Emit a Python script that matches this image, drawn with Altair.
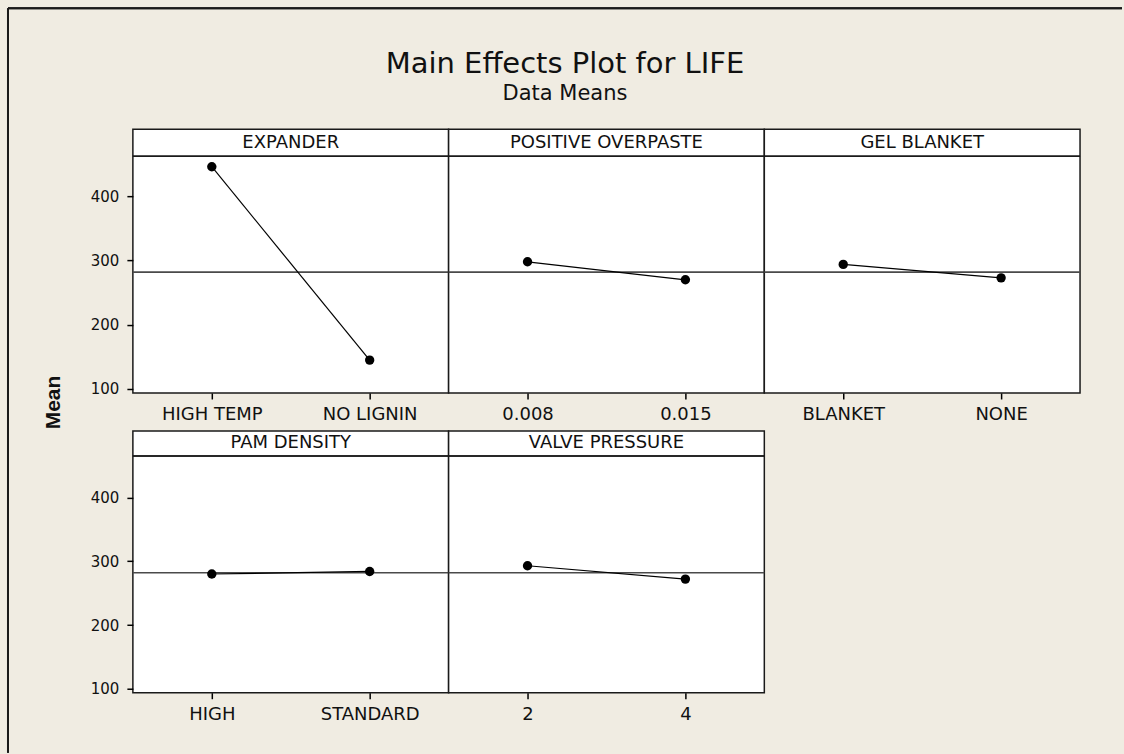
import altair as alt
import pandas as pd

# Main effects of each factor on LIFE (data means)
factors = ["EXPANDER", "POSITIVE OVERPASTE", "GEL BLANKET", "PAM DENSITY", "VALVE PRESSURE"]
levels = [
    ["HIGH TEMP", "NO LIGNIN"],
    ["0.008", "0.015"],
    ["BLANKET", "NONE"],
    ["HIGH", "STANDARD"],
    ["2", "4"],
]
means = [
    [446, 145],
    [298, 270],
    [294, 273],
    [280, 284],
    [293, 272],
]
grand_mean = 282
y_ticks = [100, 200, 300, 400]

# Layout / style constants
Y_DOMAIN = [93.8, 504.4]   # top part of each panel holds the factor header
PANEL_W = 316
FONT = "DejaVu Sans"
BG = "#F0ECE2"


def make_panel(i, height, header_h, left, top_left=False):
    df = pd.DataFrame({"level": levels[i], "mean": means[i]})
    yscale = alt.Scale(domain=Y_DOMAIN, nice=False, zero=False)

    x = alt.X(
        "level:N",
        scale=alt.Scale(type="point", domain=levels[i], padding=0.5),
        axis=alt.Axis(
            title=None, domain=False, grid=False, labelAngle=0,
            tickSize=6, tickColor="black", tickWidth=1.5,
            labelFont=FONT, labelFontSize=18, labelColor="#111111",
            labelPadding=7,
        ),
    )

    if left:
        axis_kw = dict(
            values=y_ticks, domain=False, grid=False,
            tickSize=6, tickColor="black", tickWidth=1.5,
            labelFont=FONT, labelFontSize=15, labelColor="#111111",
            labelPadding=8,
        )
        if top_left:
            axis_kw.update(
                title="Mean", titleX=-69, titleY=273, titleAngle=270,
                titleAlign="center", titleBaseline="bottom",
                titleFont="Liberation Sans", titleFontSize=21,
                titleFontWeight="bold", titleColor="#111111",
            )
        else:
            axis_kw.update(title="")
        yaxis = alt.Axis(**axis_kw)
    else:
        yaxis = None

    y = alt.Y("mean:Q", scale=yscale, axis=yaxis)

    ref = alt.Chart(pd.DataFrame({"grand": [grand_mean]})).mark_rule(
        color="#4a4a4a", strokeWidth=1.6
    ).encode(y=alt.Y("grand:Q", scale=yscale, axis=yaxis))

    base = alt.Chart(df)
    line = base.mark_line(color="black", strokeWidth=1.2).encode(x=x, y=y)
    pts = base.mark_circle(size=88, color="black", opacity=1).encode(x=x, y=y)

    header_line = alt.Chart(df).mark_rule(color="#1a1a1a", strokeWidth=1.5).encode(
        x=alt.value(0), x2=alt.value(PANEL_W), y=alt.value(header_h)
    )
    header_text = alt.Chart(pd.DataFrame({"factor": [factors[i]]})).mark_text(
        font=FONT, fontSize=18, color="#111111", align="center", baseline="middle"
    ).encode(
        text="factor:N", x=alt.value(PANEL_W / 2), y=alt.value(header_h / 2)
    )

    layers = [ref, line, pts, header_line, header_text]

    if top_left:
        # window frame along the top and left edges
        frame_v = alt.Chart(df).mark_rule(color="#1a1a1a", strokeWidth=2).encode(
            x=alt.value(-125), y=alt.value(-121), y2=alt.value(624)
        )
        frame_h = alt.Chart(df).mark_rule(color="#1a1a1a", strokeWidth=2).encode(
            x=alt.value(-125), x2=alt.value(990), y=alt.value(-121)
        )
        layers += [frame_v, frame_h]

    return alt.layer(*layers).properties(width=PANEL_W, height=height)


panels = [
    make_panel(0, 264, 27, left=True, top_left=True),
    make_panel(1, 264, 27, left=False),
    make_panel(2, 264, 27, left=False),
    make_panel(3, 262, 25, left=True),
    make_panel(4, 262, 25, left=False),
]

chart = alt.concat(
    *panels,
    columns=3,
    spacing=alt.RowColnumber(row=38, column=0),
    bounds="flush",
).properties(
    title=alt.TitleParams(
        text="Main Effects Plot for LIFE",
        subtitle="Data Means",
        anchor="middle",
        frame="bounds",
        font=FONT,
        fontSize=29,
        fontWeight="normal",
        color="#111111",
        subtitleFont=FONT,
        subtitleFontSize=21,
        subtitleColor="#111111",
        subtitlePadding=5,
        offset=-98,
    ),
    background=BG,
    padding={"left": 6, "top": 6, "right": 0, "bottom": 0},
).configure_view(
    stroke="#1a1a1a", strokeWidth=1.5, fill="white"
)

chart.save("out.html", embed_options={"renderer": "svg", "actions": False})
